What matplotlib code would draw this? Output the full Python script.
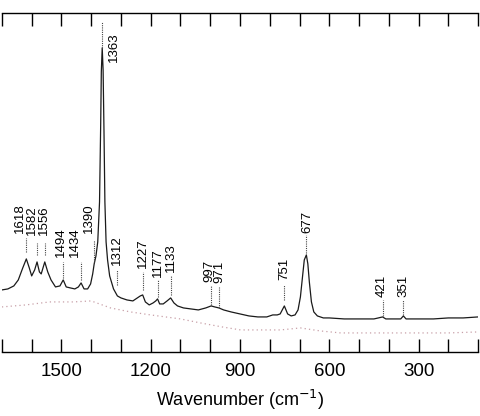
import matplotlib
matplotlib.use('Agg')
import matplotlib.pyplot as plt
from matplotlib.ticker import MultipleLocator, FuncFormatter

plt.rcParams['font.family'] = ['Liberation Sans', 'DejaVu Sans']

# Raman spectrum (sample)
wn = [1700, 1680, 1660, 1645, 1630, 1618, 1608, 1600, 1590, 1582, 1574, 1568, 1556,
      1546, 1535, 1520, 1505, 1494, 1484, 1470, 1455, 1443, 1434, 1424, 1412, 1402,
      1395, 1390, 1384, 1378, 1372, 1368, 1366, 1363, 1360, 1357, 1354, 1350, 1345,
      1338, 1325, 1312, 1300, 1280, 1260, 1245, 1235, 1227, 1218, 1205, 1192, 1183,
      1177, 1170, 1158, 1145, 1133, 1122, 1110, 1090, 1065, 1040, 1015, 997, 985,
      971, 955, 930, 900, 870, 840, 810, 790, 775, 765, 751, 740, 728, 715, 705,
      697, 690, 684, 677, 672, 667, 660, 652, 640, 620, 600, 550, 500, 450, 435,
      421, 410, 395, 375, 360, 351, 342, 330, 300, 250, 200, 150, 100]
inten = [62, 63, 66, 72, 84, 93, 84, 76, 82, 90, 80, 78, 90,
         80, 72, 65, 66, 72, 65, 64, 63, 65, 69, 63, 63, 68,
         78, 88, 96, 110, 150, 230, 280, 304, 282, 220, 150, 110, 92,
         76, 63, 56, 54, 52, 51, 54, 56, 57, 50, 47, 49, 51,
         53, 48, 48, 51, 54, 49, 46, 44, 43, 42, 44, 46, 45,
         44, 42, 40, 38, 36, 35, 35, 37, 37, 38, 46, 38, 36, 37, 42,
         55, 75, 92, 97, 88, 70, 50, 40, 36, 34, 34, 33, 33, 33, 34,
         35, 33, 33, 33, 33, 36, 33, 33, 33, 33, 34, 34, 35]

# second (reference) trace, dotted
wn_ref = [1700, 1620, 1540, 1460, 1400, 1335, 1268, 1200, 1100, 1033, 960, 898,
          830, 764, 697, 630, 562, 480, 400, 300, 200, 100]
inten_ref = [45, 47, 50, 50, 51, 44, 40, 37, 33, 29, 25, 22,
             22, 22, 24, 21, 19, 19, 19, 19, 19, 20]

# band labels
bands = [1618, 1582, 1556, 1494, 1434, 1390, 1363, 1312, 1227, 1177, 1133,
         997, 971, 751, 677, 421, 351]
band_text_x = [1641, 1599, 1558, 1503, 1453, 1406, 1325, 1312, 1227, 1177, 1133,
               1004, 968, 751, 673, 424, 351]
band_text_y = [119, 117, 117, 95, 95, 119, 290, 87, 84, 75, 80,
               70, 69, 72, 119, 55, 55]
lead_top = [114, 109, 109, 90, 90, 112, 330, 82, 80, 72, 77,
            67, 65, 67, 117, 52, 52]
lead_bot = [100, 97, 97, 74, 72, 90, 304, 67, 62, 55, 57,
            47, 44, 52, 99, 36, 37]

fig = plt.figure(figsize=(4.8, 4.16), dpi=100)
ax = fig.add_axes([0.004, 0.154, 0.992, 0.815])

ax.plot(wn, inten, color='#1a1a1a', lw=0.9)
ax.plot(wn_ref, inten_ref, color='#c8a0a8', lw=0.9, ls=(0, (1, 2.5)))

for b, tx, ty, lt, lb in zip(bands, band_text_x, band_text_y, lead_top, lead_bot):
    ax.plot([b, b], [lb, lt], color='#444444', lw=0.8, ls=(0, (1, 1)))
    ax.text(tx, ty, str(b), rotation=90, ha='center', va='bottom', fontsize=9.5)

ax.set_xlim(1700, 100)
ax.set_ylim(0, 339)
ax.xaxis.set_major_locator(MultipleLocator(100))
ax.xaxis.set_major_formatter(FuncFormatter(lambda v, p: '%d' % v if int(round(v)) % 300 == 0 and 100 < v < 1700 else ''))
ax.tick_params(axis='x', direction='in', length=9.5, width=1, top=True, labelsize=13.5, pad=8)
ax.set_yticks([])
ax.spines['left'].set_visible(False)
ax.spines['right'].set_visible(False)
ax.spines['top'].set_linewidth(1)
ax.spines['bottom'].set_linewidth(1)
ax.set_xlabel('Wavenumber (cm$^{-1}$)', fontsize=13, labelpad=6)

fig.savefig('out.png', dpi=100)
